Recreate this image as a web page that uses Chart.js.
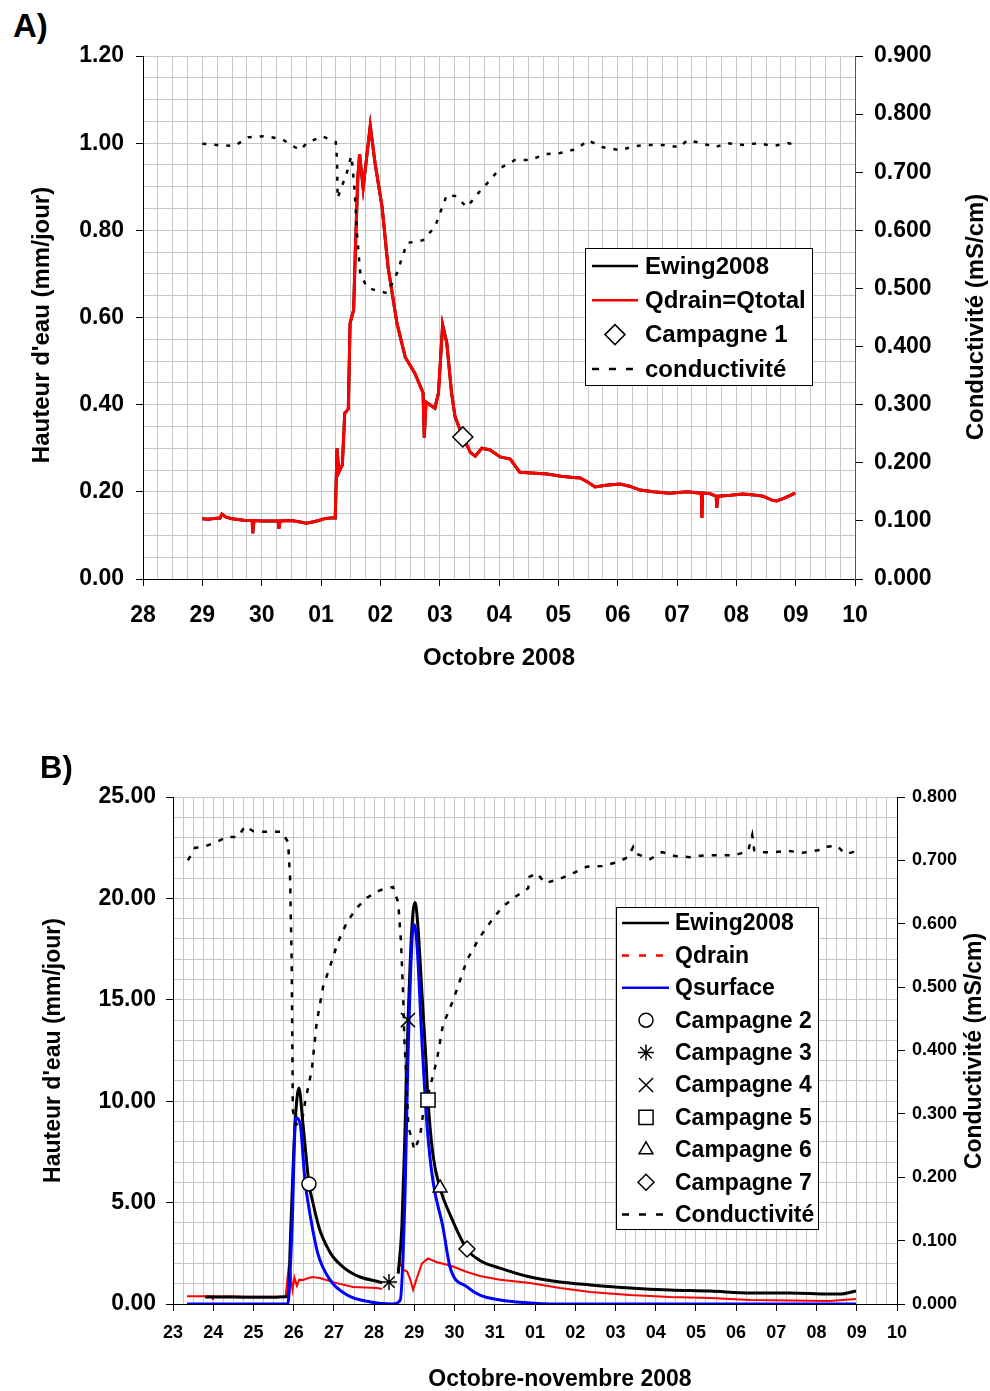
<!DOCTYPE html>
<html>
<head>
<meta charset="utf-8">
<script src="https://cdn.jsdelivr.net/npm/chart.js@4.4.1/dist/chart.umd.min.js"></script>
<style>
  html, body { margin: 0; padding: 0; background: #fff; width: 990px; height: 1391px; overflow: hidden; }
  .panel { position: absolute; left: 0; width: 990px; height: 700px; }
  .panel canvas { display: block; }
  .tag { position: absolute; font-family: "Liberation Sans", Arial, sans-serif; font-weight: bold; line-height: 1; }
</style>
</head>
<body>
<div class="tag" style="left:13px; top:9px; font-size:33px;">A)</div>
<div class="panel" style="top:0"><canvas id="chartA" width="990" height="700"></canvas></div>
<div class="panel" style="top:700px"><canvas id="chartB" width="990" height="700"></canvas></div>
<div class="tag" style="left:40px; top:752px; font-size:31px;">B)</div>
<script>
// ---------- A) 28 sept -> 10 oct 2008, x = days after 28 sept ----------
const aDayLabels = ['28', '29', '30', '01', '02', '03', '04', '05', '06', '07', '08', '09', '10'];
const aDrainDays = [1.00, 1.10, 1.20, 1.30, 1.33, 1.40, 1.50, 1.70, 1.84, 1.85,
    1.87, 2.00, 2.20, 2.28, 2.29, 2.31, 2.50, 2.65, 2.75, 2.90,
    3.05, 3.15, 3.24, 3.27, 3.30, 3.36, 3.40, 3.46, 3.49, 3.55,
    3.58, 3.62, 3.65, 3.71, 3.83, 3.91, 4.03, 4.13, 4.28, 4.42,
    4.58, 4.72, 4.74, 4.77, 4.92, 4.98, 5.05, 5.12, 5.20, 5.26,
    5.39, 5.52, 5.60, 5.71, 5.85, 6.02, 6.19, 6.35, 6.55, 6.81,
    7.05, 7.25, 7.37, 7.50, 7.62, 7.80, 8.04, 8.20, 8.38, 8.60,
    8.88, 9.17, 9.41, 9.42, 9.43, 9.55, 9.66, 9.67, 9.69, 9.90,
    10.11, 10.30, 10.45, 10.60, 10.68, 10.80, 10.99];
const aDrainVals = [0.138, 0.137, 0.139, 0.140, 0.149, 0.142, 0.138, 0.135, 0.134, 0.105,
    0.134, 0.133, 0.133, 0.133, 0.115, 0.133, 0.134, 0.131, 0.128, 0.132,
    0.138, 0.140, 0.140, 0.300, 0.245, 0.262, 0.380, 0.390, 0.587, 0.617,
    0.760, 0.920, 0.975, 0.897, 1.040, 0.955, 0.853, 0.716, 0.587, 0.509,
    0.473, 0.427, 0.324, 0.406, 0.392, 0.427, 0.583, 0.542, 0.427, 0.372,
    0.326, 0.290, 0.282, 0.300, 0.296, 0.280, 0.275, 0.245, 0.243, 0.241,
    0.236, 0.233, 0.232, 0.222, 0.211, 0.215, 0.218, 0.213, 0.204, 0.200,
    0.197, 0.200, 0.197, 0.140, 0.197, 0.196, 0.190, 0.163, 0.190, 0.192,
    0.195, 0.193, 0.190, 0.181, 0.179, 0.185, 0.197];
// model curve is hidden under the measured one in panel A
const aEwingDays = aDrainDays;
const aEwingVals = aDrainVals;
const aCondDays = [1.00, 1.25, 1.54, 1.77, 2.06, 2.34, 2.53, 2.65, 2.76, 3.02,
    3.25, 3.27, 3.28, 3.33, 3.43, 3.51, 3.53, 3.57, 3.61, 3.66,
    3.77, 3.91, 4.11, 4.25, 4.45, 4.72, 4.92, 5.12, 5.26, 5.46,
    5.65, 5.82, 6.02, 6.27, 6.52, 6.78, 7.03, 7.31, 7.50, 7.75,
    8.04, 8.29, 8.51, 8.76, 9.05, 9.17, 9.42, 9.64, 9.84, 10.11,
    10.37, 10.62, 10.87, 10.94];
const aCondVals = [0.749, 0.747, 0.745, 0.760, 0.762, 0.757, 0.745, 0.738, 0.750, 0.762,
    0.752, 0.721, 0.655, 0.670, 0.697, 0.728, 0.712, 0.664, 0.589, 0.528,
    0.502, 0.497, 0.492, 0.518, 0.578, 0.583, 0.606, 0.661, 0.659, 0.640,
    0.664, 0.683, 0.707, 0.721, 0.721, 0.731, 0.733, 0.740, 0.755, 0.743,
    0.738, 0.745, 0.747, 0.747, 0.743, 0.755, 0.750, 0.743, 0.750, 0.747,
    0.750, 0.745, 0.750, 0.749];
const aCampDays = [5.39];
const aCampVals = [0.326];

// ---------- B) 23 oct -> 10 nov 2008, x = days after 23 oct ----------
const bDayLabels = ['23', '24', '25', '26', '27', '28', '29', '30', '31', '01',
    '02', '03', '04', '05', '06', '07', '08', '09', '10'];
const bEwingDays = [0.80, 1.50, 2.00, 2.50, 2.80, 2.86, 2.93, 3.03, 3.13, 3.23,
    3.38, 3.48, 3.65, 3.90, 3.98, 4.23, 4.40, 4.65, 5.15, 5.20,
    5.40, 5.60, 5.69, 5.77, 5.84, 5.94, 6.02, 6.09, 6.19, 6.29,
    6.34, 6.46, 6.64, 6.89, 7.31, 7.63, 8.13, 8.88, 9.62, 10.37,
    11.36, 12.36, 13.35, 14.35, 15.34, 16.33, 16.58, 16.98];
const bEwingVals = [0.34, 0.34, 0.33, 0.33, 0.36, 0.40, 3.80, 8.70, 10.65, 8.90,
    5.95, 4.98, 3.65, 2.56, 2.32, 1.82, 1.58, 1.33, 1.08, 1.05,
    null, 1.50, 3.80, 8.70, 13.70, 18.60, 19.80, 18.60, 15.30, 12.00,
    10.05, 7.40, 5.70, 4.40, 2.70, 2.15, 1.77, 1.33, 1.08, 0.94,
    0.79, 0.69, 0.64, 0.54, 0.54, 0.49, 0.49, 0.64];
const bDrainDays = [0.35, 0.98, 0.99, 1.00, 2.00, 2.80, 2.86, 2.90, 2.93, 2.97,
    3.02, 3.08, 3.14, 3.23, 3.45, 3.65, 4.07, 4.48, 5.07, 5.20,
    5.40, 5.58, 5.65, 5.72, 5.82, 5.90, 5.97, 6.05, 6.19, 6.34,
    6.56, 6.89, 7.31, 7.63, 8.13, 8.88, 9.62, 10.37, 11.36, 12.36,
    13.35, 14.35, 16.33, 16.98];
const bDrainVals = [0.38, 0.38, 0.20, 0.38, 0.36, 0.36, 1.50, 0.80, 1.40, 0.70,
    1.30, 0.90, 1.20, 1.18, 1.33, 1.28, 1.03, 0.84, 0.79, 0.74,
    null, 1.68, 2.00, 1.70, 1.60, 1.20, 0.70, 1.20, 2.00, 2.25,
    2.06, 1.90, 1.58, 1.38, 1.20, 1.03, 0.79, 0.59, 0.44, 0.34,
    0.30, 0.20, 0.15, 0.25];
const bSurfDays = [0.35, 2.85, 2.96, 3.05, 3.16, 3.28, 3.40, 3.60, 3.90, 4.33,
    4.90, 5.47, 5.65, 5.77, 5.84, 5.97, 6.00, 6.07, 6.19, 6.32,
    6.46, 6.71, 6.89, 7.31, 7.63, 8.13, 8.88, 9.50, 16.98];
const bSurfVals = [0, 0, 3.80, 9.20, 8.90, 6.10, 4.50, 2.50, 1.20, 0.44,
    0.10, 0, 0.20, 5.50, 12.00, 18.60, 18.70, 17.60, 12.90, 8.70,
    6.10, 3.80, 1.80, 0.84, 0.44, 0.20, 0.05, 0, 0];
const bCondDays = [0.37, 0.55, 0.75, 1.09, 1.34, 1.62, 1.79, 2.00, 2.29, 2.49,
    2.70, 2.86, 2.91, 2.95, 2.98, 3.05, 3.20, 3.28, 3.36, 3.45,
    3.57, 3.73, 3.90, 4.10, 4.33, 4.57, 4.82, 5.15, 5.47, 5.60,
    5.67, 5.72, 5.75, 5.80, 5.85, 5.92, 6.00, 6.14, 6.22, 6.39,
    6.56, 6.71, 6.97, 7.31, 7.63, 7.93, 8.18, 8.50, 8.83, 8.86,
    9.05, 9.25, 9.62, 9.95, 10.29, 10.67, 11.04, 11.31, 11.44, 11.50,
    11.86, 12.16, 12.48, 12.85, 13.23, 13.55, 13.97, 14.30, 14.40, 14.45,
    14.59, 14.92, 15.29, 15.66, 16.04, 16.16, 16.51, 16.71, 16.91, 16.98];
const bCondVals = [0.700, 0.720, 0.721, 0.729, 0.737, 0.737, 0.754, 0.746, 0.745, 0.745,
    0.745, 0.729, 0.674, 0.543, 0.306, 0.283, 0.286, 0.317, 0.342, 0.369,
    0.443, 0.500, 0.532, 0.571, 0.603, 0.625, 0.641, 0.653, 0.658, 0.633,
    0.570, 0.490, 0.420, 0.358, 0.280, 0.264, 0.243, 0.264, 0.301, 0.342,
    0.385, 0.440, 0.480, 0.543, 0.579, 0.606, 0.626, 0.642, 0.656, 0.674,
    0.680, 0.664, 0.671, 0.680, 0.690, 0.691, 0.697, 0.705, 0.721, 0.711,
    0.702, 0.713, 0.707, 0.705, 0.708, 0.708, 0.708, 0.715, 0.740, 0.716,
    0.713, 0.713, 0.715, 0.712, 0.716, 0.721, 0.723, 0.710, 0.713, 0.705];
const bCampNames = ['Campagne 2', 'Campagne 3', 'Campagne 4', 'Campagne 5', 'Campagne 6', 'Campagne 7'];
const bCampDays = [3.38, 5.37, 5.84, 6.34, 6.64, 7.31];
const bCampVals = [5.92, 1.08, 14.0, 10.06, 5.72, 2.71];

// ---------- drawing ----------
const FONT = '"Liberation Sans", Arial, sans-serif';
const GRID = '#c6c6c6';
const CLEAR = 'rgba(0,0,0,0)';
Chart.defaults.color = '#000';
Chart.defaults.font.family = FONT;

const bold = size => ({ family: FONT, size: size, weight: 'bold' });
const onStep = (v, s) => Math.abs(v / s - Math.round(v / s)) < 1e-6;
const pts = (xs, ys) => xs.map((x, i) => ({ x: x, y: ys[i] }));

// legend drawn inside the plot, with a frame
const boxLegend = {
    id: 'boxLegend',
    afterDraw(chart, args, o) {
        if (!o || !o.rows) return;
        const ctx = chart.ctx;
        ctx.save();
        ctx.fillStyle = '#fff';
        ctx.fillRect(o.x, o.y, o.w, o.h);
        ctx.strokeStyle = '#000';
        ctx.lineWidth = 1;
        ctx.strokeRect(o.x + 0.5, o.y + 0.5, o.w - 1, o.h - 1);
        ctx.font = 'bold ' + o.size + 'px ' + FONT;
        ctx.textBaseline = 'middle';
        ctx.textAlign = 'left';
        o.rows.forEach((label, i) => {
            const ds = chart.data.datasets.find(d => d.label === label);
            const cy = o.y + o.first + i * o.step;
            ctx.save();
            if (ds.showLine === false) {
                ctx.fillStyle = ds.backgroundColor;
                ctx.strokeStyle = ds.borderColor;
                ctx.lineWidth = ds.borderWidth;
                Chart.helpers.drawPoint(ctx, {
                    pointStyle: ds.pointStyle, rotation: 0,
                    radius: ds.pointRadius, borderWidth: ds.borderWidth
                }, o.markX, cy);
            } else {
                ctx.strokeStyle = ds.borderColor;
                ctx.lineWidth = o.lineWidth;
                ctx.setLineDash(ds.legendDash || []);
                ctx.beginPath();
                ctx.moveTo(o.lineX0, cy);
                ctx.lineTo(o.lineX1, cy);
                ctx.stroke();
            }
            ctx.restore();
            ctx.fillStyle = '#000';
            ctx.fillText(label, o.textX, cy + o.textDy);
        });
        ctx.restore();
    }
};

// axis titles that need a free position (right side reads bottom to top)
const freeTitles = {
    id: 'freeTitles',
    afterDraw(chart, args, o) {
        if (!o || !o.items) return;
        const ctx = chart.ctx;
        o.items.forEach(t => {
            ctx.save();
            ctx.translate(t.x, t.y);
            if (t.vertical) ctx.rotate(-Math.PI / 2);
            ctx.font = 'bold ' + t.size + 'px ' + FONT;
            ctx.fillStyle = '#000';
            ctx.textAlign = 'center';
            ctx.textBaseline = 'middle';
            ctx.fillText(t.text, 0, 0);
            ctx.restore();
        });
    }
};

function makeChart(id, c) {
    return new Chart(document.getElementById(id), {
        type: 'line',
        data: { datasets: c.datasets },
        options: {
            responsive: false,
            animation: false,
            events: [],
            layout: { padding: { top: c.top, left: 0, right: 0, bottom: 0 } },
            elements: { point: { radius: 0 } },
            plugins: {
                legend: { display: false },
                tooltip: { enabled: false },
                boxLegend: c.legend,
                freeTitles: { items: c.titles }
            },
            scales: {
                x: {
                    type: 'linear', min: 0, max: c.x.max,
                    afterFit: s => { s.height = c.x.height; },
                    border: { color: '#000', width: 1 },
                    grid: {
                        color: GRID, tickLength: 7,
                        tickColor: ctx => onStep(ctx.tick.value, 1) ? '#000' : CLEAR
                    },
                    ticks: {
                        stepSize: 0.25, maxTicksLimit: 1000, autoSkip: false, maxRotation: 0,
                        padding: c.x.pad, font: bold(c.x.font),
                        callback: v => onStep(v, 1) ? c.x.labels[Math.round(v)] : ''
                    },
                    title: {
                        display: !!c.x.title, text: c.x.title || '', font: bold(c.titleSize),
                        padding: { top: 0, bottom: c.x.titlePad || 0 }
                    }
                },
                y: {
                    position: 'left', min: 0, max: c.y.max,
                    afterFit: s => { s.width = c.y.width; },
                    border: { color: '#000', width: 1 },
                    grid: {
                        color: GRID, tickLength: 7,
                        tickColor: ctx => onStep(ctx.tick.value, c.y.major) ? '#000' : CLEAR
                    },
                    ticks: {
                        stepSize: c.y.step, maxTicksLimit: 1000, autoSkip: false,
                        padding: c.y.pad, font: bold(c.y.font),
                        callback: v => onStep(v, c.y.major) ? v.toFixed(2) : ''
                    },
                    title: {
                        display: !!c.y.title, text: c.y.title || '', font: bold(c.titleSize),
                        padding: { top: c.y.titlePad || 0, bottom: 0 }
                    }
                },
                y2: {
                    position: 'right', min: 0, max: c.y2.max,
                    afterFit: s => { s.width = c.y2.width; },
                    border: { color: c.y2.axisColor, width: 1 },
                    grid: { drawOnChartArea: false, color: '#000', tickLength: 8 },
                    ticks: {
                        stepSize: 0.1, maxTicksLimit: 1000, autoSkip: false,
                        padding: c.y2.pad, font: bold(c.y2.font),
                        callback: v => v.toFixed(3)
                    }
                }
            }
        },
        plugins: [boxLegend, freeTitles]
    });
}

const condLine = (label, xs, ys, dash, order) => ({
    label: label, data: pts(xs, ys), yAxisID: 'y2', order: order,
    borderColor: '#000', borderWidth: 2.5, borderDash: dash, legendDash: [7, 10],
    pointRadius: 0, tension: 0, fill: false
});
const marker = (label, x, y, style, r, order) => ({
    label: label, data: [{ x: x, y: y }], yAxisID: 'y', order: order, showLine: false,
    pointStyle: style, pointRadius: r, borderWidth: 1.5,
    borderColor: '#000', backgroundColor: '#fff'
});

makeChart('chartA', {
    top: 56, titleSize: 24,
    x: { max: 12, height: 121, pad: 16, font: 23, labels: aDayLabels, title: 'Octobre 2008', titlePad: 27 },
    y: { max: 1.2, step: 0.05, major: 0.2, width: 143, pad: 12, font: 23 },
    y2: { max: 0.9, width: 135, pad: 11, font: 23, axisColor: '#555' },
    titles: [
        { text: "Hauteur d'eau (mm/jour)", x: 42, y: 325, size: 24, vertical: true },
        { text: 'Conductivité (mS/cm)', x: 976, y: 317, size: 24, vertical: true }
    ],
    legend: {
        rows: ['Ewing2008', 'Qdrain=Qtotal', 'Campagne 1', 'conductivité'],
        x: 585, y: 248, w: 228, h: 138, first: 18, step: 34.3, size: 24,
        lineX0: 592, lineX1: 638, markX: 615, textX: 645, textDy: 1, lineWidth: 2.5
    },
    datasets: [
        marker('Campagne 1', aCampDays[0], aCampVals[0], 'rectRot', 10, 0),
        condLine('conductivité', aCondDays, aCondVals, [4, 8], 1),
        { label: 'Qdrain=Qtotal', data: pts(aDrainDays, aDrainVals), yAxisID: 'y', order: 2,
          borderColor: '#ff0000', borderWidth: 3, pointRadius: 0, tension: 0 },
        { label: 'Ewing2008', data: pts(aEwingDays, aEwingVals), yAxisID: 'y', order: 3,
          borderColor: '#000', borderWidth: 3, pointRadius: 0, tension: 0 }
    ]
});

const bStyles = [['circle', 7], ['star', 8], ['crossRot', 10], ['rect', 10], ['triangle', 8], ['rectRot', 8]];
makeChart('chartB', {
    top: 97, titleSize: 23,
    x: { max: 18, height: 96, pad: 11, font: 18, labels: bDayLabels },
    y: { max: 25, step: 1, major: 5, width: 173, pad: 10, font: 23,
         title: "Hauteur d'eau (mm/jour)", titlePad: 40 },
    y2: { max: 0.8, width: 93, pad: 7, font: 18, axisColor: '#000' },
    titles: [
        { text: 'Octobre-novembre 2008', x: 560, y: 680, size: 23, vertical: false },
        { text: 'Conductivité (mS/cm)', x: 975, y: 351, size: 23, vertical: true }
    ],
    legend: {
        rows: ['Ewing2008', 'Qdrain', 'Qsurface'].concat(bCampNames, ['Conductivité']),
        x: 616, y: 207, w: 203, h: 323, first: 16, step: 32.4, size: 23,
        lineX0: 622, lineX1: 669, markX: 646, textX: 675, textDy: 1, lineWidth: 2.5
    },
    datasets: bCampNames.map((n, i) => marker(n, bCampDays[i], bCampVals[i], bStyles[i][0], bStyles[i][1], 0)).concat([
        condLine('Conductivité', bCondDays, bCondVals, [5, 8], 1),
        { label: 'Qsurface', data: pts(bSurfDays, bSurfVals), yAxisID: 'y', order: 2,
          borderColor: '#0000ff', borderWidth: 3, pointRadius: 0, cubicInterpolationMode: 'monotone' },
        { label: 'Ewing2008', data: pts(bEwingDays, bEwingVals), yAxisID: 'y', order: 3,
          borderColor: '#000', borderWidth: 3, pointRadius: 0, cubicInterpolationMode: 'monotone' },
        { label: 'Qdrain', data: pts(bDrainDays, bDrainVals), yAxisID: 'y', order: 4,
          borderColor: '#ff0000', borderWidth: 2, pointRadius: 0, tension: 0, legendDash: [7, 10] }
    ])
});
</script>
</body>
</html>
